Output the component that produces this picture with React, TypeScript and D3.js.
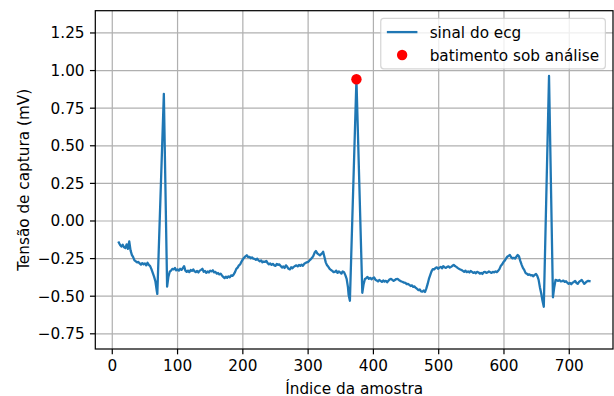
import React from "react";
import * as d3 from "d3";

const sampleIndex: number[] = [
  10,12,14,16,18,20,22,24,26,28,30,32,34,36,38,40,42,44,46,48,50,52,54,56,58,60,62,64,66,68,69,79,84,86,88,
  90,92,94,96,98,100,102,104,106,108,110,112,114,116,118,120,122,124,126,128,130,132,134,136,138,140,142,144,146,148,
  150,152,154,156,158,160,162,164,166,168,170,172,174,176,178,180,182,184,186,188,190,192,194,196,198,
  200,202,204,206,208,210,212,214,216,218,220,222,224,226,228,230,232,234,236,238,240,242,244,246,248,
  250,252,254,256,258,260,262,264,266,268,270,272,274,276,278,280,282,284,286,288,290,292,294,296,298,
  300,302,304,306,308,310,312,314,316,318,320,322,323,325,327,329,331,333,335,337,339,341,343,345,347,349,
  351,353,355,357,359,361,362,364,374,383,385,387,389,391,393,395,397,399,
  401,403,405,407,409,411,413,415,417,419,421,423,425,427,429,431,433,435,437,439,441,443,445,447,449,
  451,453,455,457,459,461,463,465,467,469,471,473,475,477,479,481,483,485,487,489,491,493,495,497,499,
  501,503,505,507,509,511,513,515,517,519,521,523,525,527,529,531,533,535,537,539,541,543,545,547,549,
  551,553,555,557,559,561,563,565,567,569,571,573,575,577,579,581,583,585,587,589,591,593,595,597,599,
  601,603,605,607,609,611,613,615,617,619,621,623,625,627,629,631,633,635,637,639,641,643,645,647,649,
  651,653,655,657,659,661,669,675,677,679,681,683,685,687,689,691,693,695,697,699,
  701,703,705,707,709,711,713,715,717,719,721,723,725,727,729,731
];

const signalMv: number[] = [
  -0.143,-0.160,-0.170,-0.158,-0.175,-0.180,-0.155,-0.185,-0.136,-0.195,-0.225,-0.240,-0.262,-0.268,-0.275,-0.272,-0.282,-0.290,-0.280,-0.288,-0.282,-0.295,-0.278,-0.292,-0.300,-0.320,-0.345,-0.370,-0.400,-0.460,-0.485,0.845,-0.437,-0.370,-0.337,
  -0.330,-0.318,-0.322,-0.312,-0.328,-0.322,-0.330,-0.318,-0.325,-0.315,-0.300,-0.330,-0.338,-0.330,-0.340,-0.326,-0.332,-0.322,-0.335,-0.340,-0.332,-0.342,-0.330,-0.325,-0.318,-0.338,-0.332,-0.345,-0.335,-0.342,
  -0.330,-0.335,-0.328,-0.342,-0.338,-0.350,-0.345,-0.355,-0.350,-0.362,-0.372,-0.380,-0.370,-0.378,-0.368,-0.375,-0.362,-0.365,-0.355,-0.340,-0.318,-0.310,-0.295,-0.288,-0.270,
  -0.255,-0.245,-0.235,-0.228,-0.240,-0.238,-0.248,-0.242,-0.250,-0.252,-0.258,-0.250,-0.262,-0.268,-0.262,-0.275,-0.270,-0.272,-0.265,-0.280,-0.288,-0.282,-0.292,-0.285,-0.295,
  -0.298,-0.285,-0.292,-0.288,-0.300,-0.310,-0.302,-0.312,-0.295,-0.305,-0.318,-0.322,-0.308,-0.315,-0.305,-0.300,-0.295,-0.302,-0.292,-0.298,-0.290,-0.298,-0.285,-0.280,-0.275,
  -0.272,-0.262,-0.255,-0.245,-0.232,-0.210,-0.200,-0.215,-0.222,-0.228,-0.220,-0.212,-0.204,-0.240,-0.275,-0.295,-0.305,-0.318,-0.326,-0.332,-0.340,-0.338,-0.330,-0.345,-0.335,-0.342,
  -0.350,-0.335,-0.340,-0.360,-0.385,-0.440,-0.490,-0.530,0.942,-0.477,-0.420,-0.385,-0.380,-0.372,-0.385,-0.378,-0.388,-0.380,
  -0.375,-0.390,-0.395,-0.402,-0.392,-0.398,-0.405,-0.395,-0.403,-0.398,-0.408,-0.398,-0.388,-0.385,-0.392,-0.398,-0.392,-0.386,-0.385,-0.392,-0.398,-0.402,-0.405,-0.410,-0.412,
  -0.420,-0.418,-0.425,-0.432,-0.428,-0.438,-0.435,-0.445,-0.452,-0.460,-0.455,-0.468,-0.470,-0.462,-0.472,-0.450,-0.420,-0.385,-0.360,-0.335,-0.320,-0.322,-0.312,-0.308,-0.318,
  -0.310,-0.305,-0.315,-0.300,-0.308,-0.312,-0.305,-0.302,-0.310,-0.305,-0.298,-0.292,-0.300,-0.305,-0.312,-0.318,-0.322,-0.326,-0.332,-0.338,-0.330,-0.340,-0.335,-0.342,-0.332,
  -0.338,-0.345,-0.340,-0.348,-0.338,-0.342,-0.350,-0.345,-0.352,-0.340,-0.338,-0.345,-0.342,-0.335,-0.340,-0.345,-0.338,-0.342,-0.335,-0.340,-0.332,-0.320,-0.300,-0.290,-0.275,
  -0.265,-0.250,-0.238,-0.232,-0.226,-0.240,-0.248,-0.245,-0.250,-0.238,-0.226,-0.235,-0.265,-0.290,-0.312,-0.325,-0.345,-0.350,-0.358,-0.355,-0.362,-0.360,-0.368,-0.358,-0.352,
  -0.365,-0.390,-0.440,-0.480,-0.530,-0.570,0.964,-0.507,-0.440,-0.392,-0.395,-0.398,-0.392,-0.402,-0.400,-0.396,-0.405,-0.400,-0.410,-0.418,
  -0.412,-0.420,-0.410,-0.405,-0.398,-0.412,-0.418,-0.405,-0.398,-0.392,-0.405,-0.418,-0.410,-0.402,-0.398,-0.400
];

const beatIndex: number[] = [374];
const beatMv: number[] = [0.942];

const xTicks: number[] = [0, 100, 200, 300, 400, 500, 600, 700];
const yTicks: number[] = [-0.75, -0.5, -0.25, 0, 0.25, 0.5, 0.75, 1.0, 1.25];

const legendLabels: string[] = ["sinal do ecg", "batimento sob análise"];
const xLabel = "Índice da amostra";
const yLabel = "Tensão de captura (mV)";

const W = 614;
const H = 396;
const left = 95.3;
const right = 613;
const top = 10.7;
const bottom = 349;
const FONT = "'DejaVu Sans', sans-serif";
const FS = 15.28;
const PT = 110 / 72;
const BLUE = "#1f77b4";

export default function App() {
  const x = d3.scaleLinear().domain([-26, 767]).range([left, right]);
  const y = d3.scaleLinear().domain([-0.851, 1.398]).range([bottom, top]);
  const pts = sampleIndex.map((v, i) => [v, signalMv[i]] as [number, number]);
  const line = d3.line<[number, number]>().x(d => x(d[0])).y(d => y(d[1]));
  const fmtY = (v: number) => (v < 0 ? "\u2212" : "") + Math.abs(v).toFixed(2);

  const tickLen = 3.5 * PT;
  const tickPad = 3.5 * PT;
  const em = FS;
  const pad = 0.4 * em;
  const handleLen = 2 * em;
  const handleGap = 0.8 * em;
  const textW = 11.1 * em;
  const legW = pad + handleLen + handleGap + textW + pad;
  const legH = pad + em + 0.5 * em + em + pad;
  const legX = right - 0.5 * em - legW;
  const legY = top + 0.5 * em;
  const row1 = legY + pad + em / 2;
  const row2 = row1 + 1.5 * em;

  return (
    <div style={{ position: "fixed", left: 0, top: 0 }}>
      <svg width={W} height={H} style={{ display: "block", background: "#fff" }} fontFamily={FONT}>
        <defs>
          <clipPath id="plotclip">
            <rect x={left} y={top} width={right - left} height={bottom - top} />
          </clipPath>
        </defs>
        <rect x={0} y={0} width={W} height={H} fill="#fff" />
        {xTicks.map(t => (
          <line key={"gx" + t} x1={x(t)} x2={x(t)} y1={top} y2={bottom} stroke="#b0b0b0" strokeWidth={0.8 * PT} />
        ))}
        {yTicks.map(t => (
          <line key={"gy" + t} x1={left} x2={right} y1={y(t)} y2={y(t)} stroke="#b0b0b0" strokeWidth={0.8 * PT} />
        ))}
        <g clipPath="url(#plotclip)">
          <path d={line(pts) || ""} fill="none" stroke={BLUE} strokeWidth={1.5 * PT} strokeLinejoin="round" strokeLinecap="square" />
          {beatIndex.map((b, i) => (
            <circle key={"b" + i} cx={x(b)} cy={y(beatMv[i])} r={5.2} fill="red" />
          ))}
        </g>
        <rect x={left} y={top} width={right - left} height={bottom - top} fill="none" stroke="#000" strokeWidth={0.8 * PT} />
        {xTicks.map(t => (
          <g key={"tx" + t}>
            <line x1={x(t)} x2={x(t)} y1={bottom} y2={bottom + tickLen} stroke="#000" strokeWidth={0.8 * PT} />
            <text x={x(t)} y={bottom + tickLen + tickPad + 0.76 * FS} textAnchor="middle" fontSize={FS} fill="#000">{t}</text>
          </g>
        ))}
        {yTicks.map(t => (
          <g key={"ty" + t}>
            <line x1={left - tickLen} x2={left} y1={y(t)} y2={y(t)} stroke="#000" strokeWidth={0.8 * PT} />
            <text x={left - tickLen - tickPad} y={y(t)} dy="0.36em" textAnchor="end" fontSize={FS} fill="#000">{fmtY(t)}</text>
          </g>
        ))}
        <text x={(left + right) / 2} y={393.5} textAnchor="middle" fontSize={FS} fill="#000">{xLabel}</text>
        <text transform={`translate(28.5,${(top + bottom) / 2}) rotate(-90)`} textAnchor="middle" fontSize={FS} fill="#000">{yLabel}</text>
        <rect x={legX} y={legY} width={legW} height={legH} rx={0.2 * em} ry={0.2 * em} fill="#fff" fillOpacity={0.8} stroke="#cccccc" strokeOpacity={0.8} strokeWidth={0.8 * PT} />
        <line x1={legX + pad} x2={legX + pad + handleLen} y1={row1} y2={row1} stroke={BLUE} strokeWidth={1.5 * PT} />
        <circle cx={legX + pad + handleLen / 2} cy={row2} r={5.2} fill="red" />
        <text x={legX + pad + handleLen + handleGap} y={row1} dy="0.36em" fontSize={FS} fill="#000">{legendLabels[0]}</text>
        <text x={legX + pad + handleLen + handleGap} y={row2} dy="0.36em" fontSize={FS} fill="#000">{legendLabels[1]}</text>
      </svg>
    </div>
  );
}
